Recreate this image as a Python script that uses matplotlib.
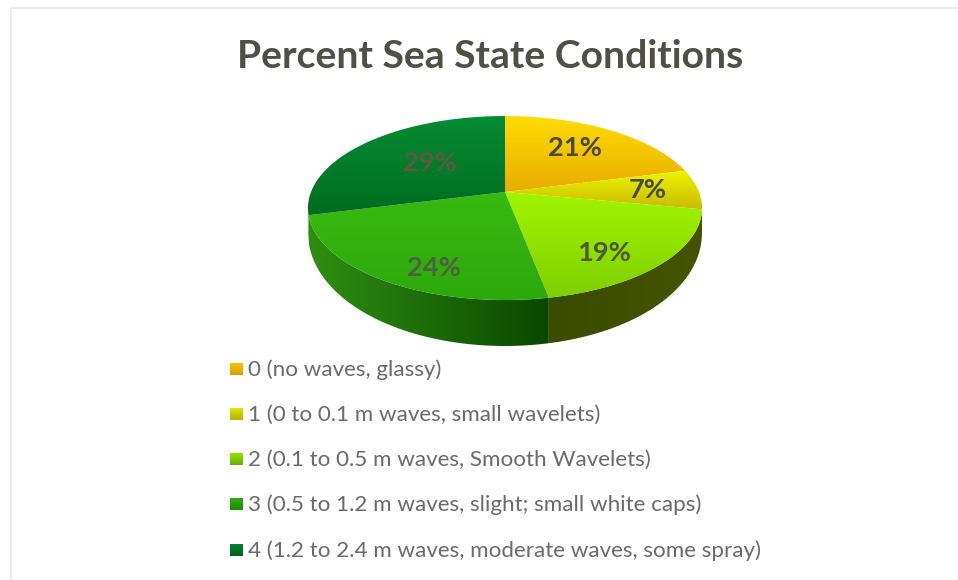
import numpy as np
import matplotlib
matplotlib.use('Agg')
import matplotlib.pyplot as plt
from matplotlib.colors import LinearSegmentedColormap
from matplotlib.patches import Polygon

plt.rcParams['font.family'] = ['Lato', 'DejaVu Sans']

# Data
title = 'Percent Sea State Conditions'
percents = [21, 7, 19, 24, 29]
categories = [
    '0 (no waves, glassy)',
    '1 (0 to 0.1 m waves, small wavelets)',
    '2 (0.1 to 0.5 m waves, Smooth Wavelets)',
    '3 (0.5 to 1.2 m waves, slight; small white caps)',
    '4 (1.2 to 2.4 m waves, moderate waves, some spray)',
]

# Colours: top surface (upper, lower), side (left, right), legend key (upper, lower)
top_colors = [('#ffdc00', '#e8ac00'), ('#eef400', '#c8bc00'), ('#a2f400', '#7ed000'),
              ('#38ba10', '#2ea80c'), ('#068c34', '#006c20')]
side_colors = [('#5a6000', '#5a6000'), ('#4a5600', '#4a5600'), ('#3a4c00', '#465400'),
               ('#2f8e12', '#0a4800'), ('#2a8a12', '#2a8a12')]
key_colors = [('#f5c800', '#dc9c00'), ('#e4ea00', '#b4b000'), ('#98e800', '#68b000'),
              ('#30ae10', '#1f8a08'), ('#06823a', '#00601c')]
label_colors = ['#4a4a40', '#4a4a40', '#4f5a30', '#4f6040', '#5c5a40']

# Layout in pixels
cx, cy = 505, 192
radius, persp, height = 194, 0.174, 89.2
label_xy = [(575, 148), (648, 190), (604, 253), (434, 268), (430, 163)]
legend_y = [369, 414, 459, 504, 550]


def project(theta):
    # pie circle -> tilted ellipse with perspective, theta clockwise from the top
    u, v = np.sin(theta), np.cos(theta)
    d = 1 + persp * v
    return cx + radius * u / d, cy - height * v / d


def rim_depth(theta):
    return 20 + 26 * np.abs(np.cos(theta))


def gradient_fill(ax, pts, c0, c1, horizontal=False, zorder=2):
    cmap = LinearSegmentedColormap.from_list('g', [c0, c1])
    pts = np.asarray(pts)
    x0, x1, y0, y1 = pts[:, 0].min(), pts[:, 0].max(), pts[:, 1].min(), pts[:, 1].max()
    grad = np.linspace(0, 1, 128)
    grad = grad[None, :] if horizontal else grad[:, None]
    im = ax.imshow(grad, cmap=cmap, extent=(x0, x1, y1, y0), aspect='auto', zorder=zorder,
                   interpolation='bilinear')
    clip = Polygon(pts, closed=True, transform=ax.transData, fc='none', ec='none')
    ax.add_patch(clip)
    im.set_clip_path(clip)


fig = plt.figure(figsize=(9.58, 5.8), dpi=100)
ax = fig.add_axes([0, 0, 1, 1])

# Frame of the original chart area
ax.plot([11, 11, 958], [580, 8, 8], color='#ececec', lw=1.5, zorder=1)

edges = np.radians(np.cumsum([0] + percents) * 3.6)
rim_start, rim_end = np.radians(100), np.radians(260)

# Side of the pie first, then the top on top of it
for i in range(len(percents)):
    a0, a1 = max(edges[i], rim_start), min(edges[i + 1], rim_end)
    if a1 <= a0:
        continue
    t = np.linspace(a0, a1, 80)
    x, y = project(t)
    lower = y + rim_depth(t)
    pts = np.r_[np.c_[x, y], np.c_[x, lower][::-1]]
    gradient_fill(ax, pts, side_colors[i][0], side_colors[i][1], horizontal=True, zorder=2)

for i in range(len(percents)):
    t = np.linspace(edges[i], edges[i + 1], 80)
    x, y = project(t)
    pts = np.r_[[(cx, cy)], np.c_[x, y]]
    gradient_fill(ax, pts, top_colors[i][0], top_colors[i][1], zorder=3)
    ax.text(label_xy[i][0], label_xy[i][1], '%d%%' % percents[i], color=label_colors[i],
            fontsize=19.6, fontweight='bold', ha='center', va='center', zorder=4)

ax.text(490.5, 57, title, color='#4f4f45', fontsize=28.2, fontweight='bold',
        ha='center', va='center', zorder=4)

# Legend
for i, name in enumerate(categories):
    y = legend_y[i]
    gradient_fill(ax, [(230, y - 6.5), (243, y - 6.5), (243, y + 6.5), (230, y + 6.5)],
                  key_colors[i][0], key_colors[i][1], zorder=3)
    ax.text(248, y + 0.5, name, color='#6a6a6a', fontsize=16.1, ha='left', va='center', zorder=4)

ax.set_xlim(0, 958)
ax.set_ylim(580, 0)
ax.axis('off')

fig.savefig('out.png', dpi=100, facecolor='white')
